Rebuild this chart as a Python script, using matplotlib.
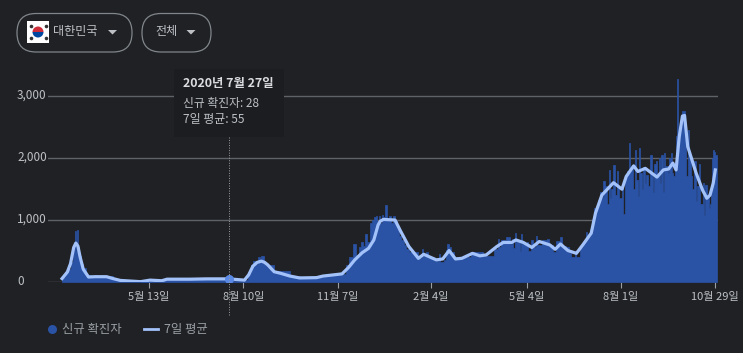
import matplotlib
matplotlib.use("Agg")
import matplotlib.pyplot as plt
from matplotlib.patches import FancyBboxPatch, Rectangle, Wedge, Polygon

plt.rcParams['font.family'] = ['Noto Sans CJK KR', 'DejaVu Sans']

BG = '#202124'
AREA = '#2a52a5'
LINE = '#a3c2fa'
TXT = '#bdc1c6'
GRID = '#5f6368'

# days counted from 2020-02-21
avg_points = [
    (0, 60), (5, 165), (8, 300), (11, 560), (13, 630), (15, 580), (17, 410), (20, 210), (25, 85), (31, 90), (42, 90), (48, 60), (55, 30),
    (74, 10), (83, 35), (94, 25), (99, 50), (121, 50), (136, 55), (157, 55), (172, 35), (176, 120), (180, 260),
    (184, 320), (188, 340), (191, 320), (194, 280), (200, 170), (206, 145), (215, 100), (224, 70), (240, 75), (246, 100), (264, 135),
    (270, 235), (276, 360), (283, 475), (289, 545), (294, 680), (298, 920), (300, 980), (303, 1010), (314, 1000), (319, 830),
    (327, 575), (336, 385), (341, 450), (353, 360), (359, 375), (365, 510), (371, 375), (377, 385), (387, 465),
    (394, 425), (400, 440), (410, 575), (416, 640), (424, 640), (428, 680), (435, 640), (443, 560), (450, 655),
    (460, 600), (465, 530), (470, 615), (477, 510), (485, 465), (491, 600), (499, 790), (503, 1110), (509, 1400),
    (520, 1600), (528, 1495), (532, 1700), (539, 1870), (543, 1780), (550, 1830), (561, 1690), (567, 1805),
    (572, 1820), (576, 1915), (579, 1805), (582, 2340), (585, 2670), (587, 2680), (590, 2180), (598, 1750), (604, 1480), (608, 1350),
    (611, 1400), (614, 1590), (616, 1805),
]
case_points = [
    (0, 80), (3, 170), (6, 220), (8, 330), (10, 510), (11, 620), (12, 820), (13, 500), (14, 840), (15, 560), (16, 430),
    (18, 300), (20, 230), (23, 120), (27, 90), (31, 110), (33, 95), (42, 95), (48, 60), (55, 30), (74, 12), (83, 40),
    (94, 30), (99, 55), (121, 55), (136, 60), (157, 28), (172, 40), (175, 150), (178, 280), (180, 350), (183, 300),
    (185, 400), (187, 340), (188, 420), (190, 300), (194, 280), (200, 180), (215, 105), (224, 75), (240, 80),
    (246, 110), (264, 140), (268, 280), (271, 400), (274, 610), (277, 440), (280, 560), (282, 640), (284, 580),
    (286, 780), (288, 640), (290, 950), (292, 1000), (294, 1050), (296, 1060), (297, 980), (299, 1060), (300, 950),
    (302, 1080), (303, 1050), (305, 1240), (306, 1020), (307, 1020), (308, 1060), (310, 950), (312, 1060), (314, 980),
    (316, 880), (318, 740), (320, 680), (322, 600), (324, 540), (327, 480), (336, 390), (339, 530), (340, 430),
    (343, 480), (345, 400), (350, 380), (353, 340), (355, 460), (356, 330), (360, 360), (362, 520), (363, 620),
    (365, 560), (367, 480), (370, 400), (376, 400), (386, 480), (397, 420), (407, 540), (411, 690), (412, 570),
    (414, 680), (418, 640), (419, 720), (422, 620), (424, 690), (425, 545), (427, 790), (428, 640), (432, 510),
    (433, 780), (434, 620), (438, 640), (439, 500), (442, 680), (444, 560), (447, 745), (448, 600), (453, 680),
    (457, 700), (459, 600), (463, 480), (466, 660), (470, 735), (471, 590), (475, 560), (478, 470), (480, 400),
    (484, 500), (485, 400), (488, 560), (491, 650), (494, 815), (495, 720), (498, 840), (500, 1000), (502, 1200),
    (505, 1320), (507, 1450), (509, 1360), (510, 1620), (512, 1540), (514, 1260), (516, 1800), (517, 1350),
    (518, 1500), (520, 1880), (521, 1400), (523, 1780), (524, 1520), (525, 1350), (528, 1580), (529, 1100),
    (531, 1700), (533, 1780), (535, 2240), (536, 1800), (537, 1830), (538, 1500), (540, 2120), (541, 1650),
    (543, 1380), (544, 2150), (545, 1750), (547, 1500), (548, 1850), (550, 1600), (551, 1720), (553, 1550),
    (554, 2050), (556, 1700), (557, 1450), (558, 1900), (560, 1950), (561, 1700), (563, 2000), (564, 1600),
    (565, 2050), (567, 1450), (568, 2080), (569, 1870), (571, 1750), (572, 2000), (574, 2080), (575, 1750),
    (576, 1700), (578, 1900), (579, 2350), (580, 3270), (581, 2400), (583, 2500), (585, 2750), (587, 2300),
    (588, 1700), (590, 2440), (591, 2050), (593, 1700), (594, 1500), (596, 1950), (598, 1300), (599, 1550),
    (601, 1900), (602, 1250), (604, 1600), (605, 1080), (606, 1560), (608, 1400), (610, 1200), (611, 1250),
    (612, 1540), (613, 2000), (614, 2130), (615, 2090), (616, 2050), (618, 2050),
]
avg_days, avg_vals = zip(*avg_points)
case_days, case_vals = zip(*case_points)

marker_day = 157
marker_val = 55
tick_days = [82, 171, 260, 348, 438, 527, 616]
tick_labels = ['5월 13일', '8월 10일', '11월 7일', '2월 4일', '5월 4일', '8월 1일', '10월 29일']
y_ticks = [1000, 2000, 3000]
y_labels = ['1,000', '2,000', '3,000']

W, H = 743, 353
fig = plt.figure(figsize=(W / 100, H / 100), dpi=100, facecolor=BG)

L, R, T, B = 48, 718, 60, 282.3
ax = fig.add_axes([L / W, 1 - B / H, (R - L) / W, (B - T) / H], facecolor='none')
pxday = 1.0605
ax.set_xlim(82 + (L - 149) / pxday, 82 + (R - 149) / pxday)
ax.set_ylim(0, (B - T) / 0.06226)
for s in ax.spines.values():
    s.set_visible(False)
ax.axhline(0, color=GRID, lw=1, zorder=1, xmax=(717 - L) / (R - L))
for v in y_ticks:
    ax.axhline(v, color=GRID, lw=1, zorder=1, xmax=(717 - L) / (R - L))
ax.fill_between(case_days, case_vals, 0, step='post', facecolor=AREA, edgecolor=AREA, lw=0.5, zorder=2)
ax.plot(avg_days, avg_vals, color=LINE, lw=2.3, solid_joinstyle='round', zorder=3)
ax.plot([marker_day], [marker_val], 'o', ms=6.5, color='#5a8ae6', mew=0, zorder=5)
ax.set_yticks([])
ax.set_xticks(tick_days, tick_labels, fontsize=8, color=TXT)
ax.tick_params(axis='x', length=4.5, width=0.8, color='#9aa0a6', pad=2.6)

ov = fig.add_axes([0, 0, 1, 1], facecolor='none')
ov.set_xlim(0, W)
ov.set_ylim(H, 0)
ov.axis('off')

for x0, x1 in [(17, 132), (142, 211)]:
    ov.add_patch(FancyBboxPatch((x0, 13.5), x1 - x0, 38.5, boxstyle='round,pad=0,rounding_size=19',
                                fc='none', ec='#80868b', lw=0.9))
ov.add_patch(Rectangle((27, 21), 22, 22, fc='white', ec='none'))
ov.add_patch(Wedge((38, 32), 5.5, 180, 360, fc='#cd2e3a', ec='none'))
ov.add_patch(Wedge((38, 32), 5.5, 0, 180, fc='#0047a0', ec='none'))
for dx, dy in [(-7.5, -6), (7.5, -6), (-7.5, 6), (7.5, 6)]:
    ov.plot([38 + dx], [32 + dy], marker='o', ms=2.6, color='#333333', mew=0)
ov.text(53, 32, '대한민국', color=TXT, fontsize=8.7, va='center', ha='left')
ov.text(155, 32, '전체', color=TXT, fontsize=8.7, va='center', ha='left')
for cx in (112.5, 191):
    ov.add_patch(Polygon([(cx - 4.5, 30), (cx + 4.5, 30), (cx, 34.5)], fc=TXT, ec='none'))

for v, lab in zip([0] + y_ticks, ['0'] + y_labels):
    y = B - v * 0.06226
    ov.text(17, y - 0.5, lab, color=TXT, fontsize=8.5, va='center', ha='left')

ov.plot([229, 229], [137, 315], color='#9aa0a6', lw=0.7, ls=(0, (1, 1.6)), zorder=4)
ov.add_patch(Rectangle((174, 69), 110, 68, fc='#1c1d20', ec='none', zorder=6))
ov.text(183, 84, '2020년 7월 27일', color='#dadce0', fontsize=8.9, fontweight='bold', va='center', zorder=7)
ov.text(183, 103, '신규 확진자: 28', color=TXT, fontsize=8.5, va='center', zorder=7)
ov.text(183, 120, '7일 평균: 55', color=TXT, fontsize=8.6, va='center', zorder=7)

ov.plot([51.5], [329], 'o', ms=6.5, color=AREA, mew=0)
ov.text(62, 329, '신규 확진자', color='#9aa0a6', fontsize=8.9, va='center')
ov.plot([144, 158], [329, 329], color=LINE, lw=2)
ov.text(164, 329, '7일 평균', color='#9aa0a6', fontsize=8.9, va='center')

fig.savefig('out.png', dpi=100, facecolor=BG)
